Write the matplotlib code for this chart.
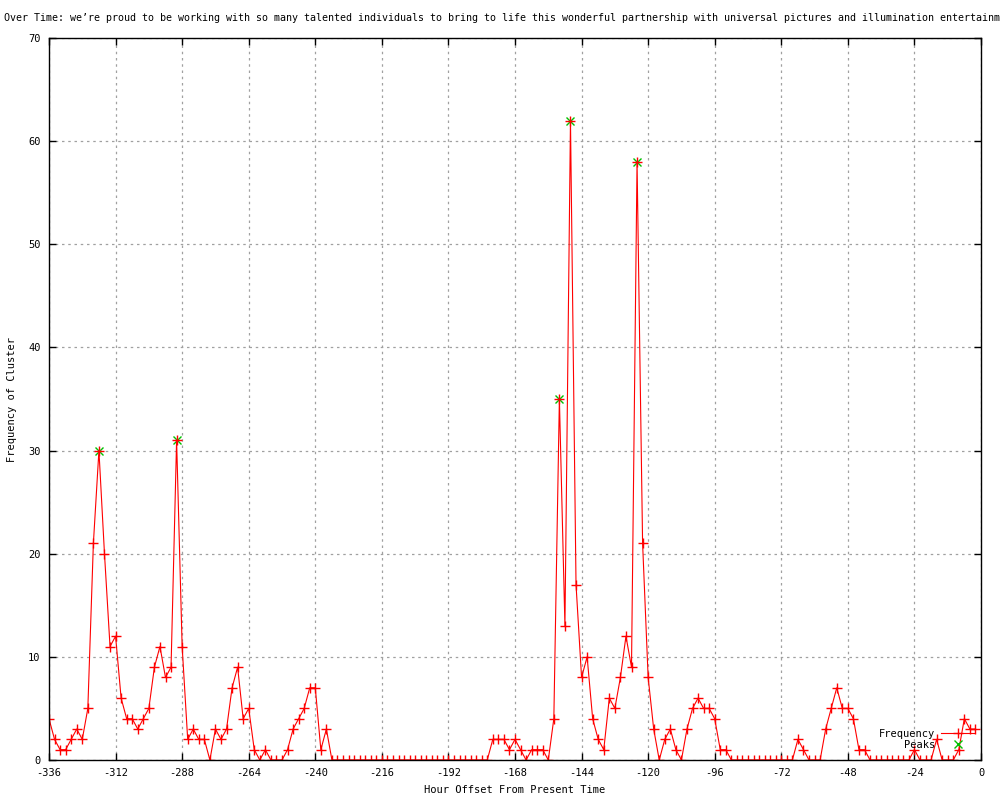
import matplotlib
matplotlib.use("Agg")
import matplotlib.pyplot as plt
import numpy as np

# hour offsets, one sample every 2 hours
hours = list(range(-336, 0, 2))

freq = [
    4, 2, 1, 1, 2, 3, 2, 5, 21, 30, 20, 11, 12, 6, 4, 4, 3, 4, 5, 9,
    11, 8, 9, 31, 11, 2, 3, 2, 2, 0, 3, 2, 3, 7, 9, 4, 5, 1, 0, 1,
    0, 0, 0, 1, 3, 4, 5, 7, 7, 1, 3,
    0, 0, 0, 0, 0, 0, 0, 0, 0, 0, 0, 0, 0, 0, 0, 0, 0, 0, 0, 0,
    0, 0, 0, 0, 0, 0, 0, 0, 0,
    2, 2, 2, 1, 2, 1, 0, 1, 1, 1, 0, 4, 35, 13, 62, 17, 8, 10, 4, 2,
    1, 6, 5, 8, 12, 9, 58, 21, 8, 3, 0, 2, 3, 1, 0, 3, 5, 6, 5, 5,
    4, 1, 1,
    0, 0, 0, 0, 0, 0, 0, 0, 0, 0, 0, 0,
    2, 1, 0, 0, 0, 3, 5, 7, 5, 5, 4, 1, 1,
    0, 0, 0, 0, 0, 0, 0, 0,
    1, 0, 0, 0, 2, 0, 0, 0, 1, 4, 3, 3,
]

peak_hours = [-318, -290, -152, -148, -124]
peak_vals = [30, 31, 35, 62, 58]

title = ("Over Time: we\u2019re proud to be working with so many talented individuals "
         "to bring to life this wonderful partnership with universal pictures and "
         "illumination entertainment")

plt.rcParams['font.family'] = ['DejaVu Sans Mono']
plt.rcParams['axes.unicode_minus'] = False

fig = plt.figure(figsize=(10, 8), dpi=100)
ax = fig.add_axes([0.049, 0.05, 0.932, 0.9025])

ax.plot(hours, freq, color='#ff0000', lw=0.8, marker='+', ms=7, mew=1.0,
        label='Frequency')
ax.plot(peak_hours, peak_vals, ls='none', color='#00c000', marker='x', ms=6,
        mew=1.0, label='Peaks', zorder=1)

ax.set_xlim(-336, 0)
ax.set_ylim(0, 70)
ax.set_xticks(range(-336, 1, 24))
ax.set_yticks(range(0, 71, 10))
ax.tick_params(direction='in', length=5, width=1, labelsize=7.5,
               top=True, right=True, pad=6)
ax.grid(True, color='#a0a0a0', ls=(0, (2, 3)), lw=0.9)
for s in ax.spines.values():
    s.set_linewidth(1.0)

ax.set_xlabel("Hour Offset From Present Time", fontsize=7.5, labelpad=5)
ax.set_ylabel("Frequency of Cluster", fontsize=7.5, labelpad=8)

# title runs off the right edge, same as the original
fig.text(0.004, 0.977, title, fontsize=7.2, ha='left', va='center')

leg = ax.legend(loc='lower right', frameon=False, fontsize=7.5,
                markerfirst=False, handlelength=3.2, borderaxespad=0.2,
                labelspacing=0.1, handletextpad=0.6,
                bbox_to_anchor=(1.0, 0.005))

fig.savefig("out.png", dpi=100)
